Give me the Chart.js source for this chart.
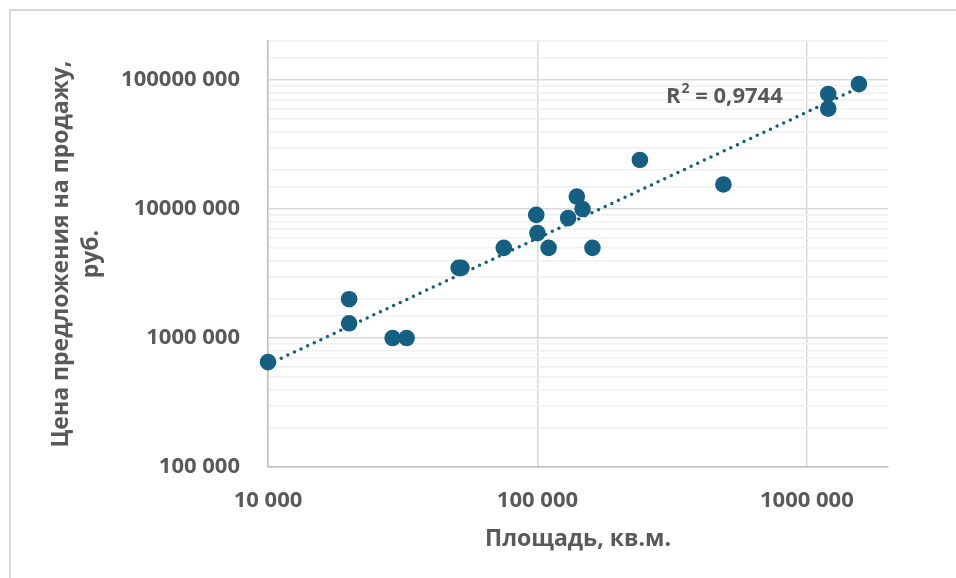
<!DOCTYPE html>
<html>
<head>
<meta charset="utf-8">
<script src="https://cdn.jsdelivr.net/npm/chart.js@4/dist/chart.umd.min.js"></script>
<style>
  html, body { margin: 0; padding: 0; background: #fff; }
  #wrap { position: relative; width: 956px; height: 578px; overflow: hidden; }
  #frame { position: absolute; left: 9px; top: 9px; width: 1000px; height: 1000px;
           border-left: 2px solid #d9d9d9; border-top: 2px solid #d9d9d9; }
  canvas { position: absolute; left: 0; top: 0; }
</style>
</head>
<body>
<div id="wrap">
  <div id="frame"></div>
  <canvas id="c" width="956" height="578"></canvas>
</div>
<script>
// Offers: area (sq. m) and asking price (rub.)
const areaSqM = [10000, 20000, 20000, 29000, 32700, 51000, 52200, 75000, 99000, 100000,
                 110000, 130000, 140000, 147000, 160000, 240000, 490000, 1200000, 1200000, 1560000];
const offerPriceRub = [650000, 2000000, 1300000, 1000000, 1000000, 3500000, 3500000, 5000000, 9000000, 6500000,
                       5000000, 8500000, 12500000, 10000000, 5000000, 24000000, 15500000, 78000000, 60000000, 93000000];

// Axis tick labels (only the decades are labelled)
const xTickValues = [10000, 100000, 1000000];
const xTickLabels = ['10 000', '100 000', '1000 000'];
const yTickValues = [100000, 1000000, 10000000, 100000000];
const yTickLabels = ['100 000', '1000 000', '10000 000', '100000 000'];

// Coefficient of determination of the power trendline
const rSquared = 0.9744;
const r2LabelAt = { x: 300000, y: 74000000 };

const BLUE = '#156082';
const TEXT = '#595959';
const FONT = "'Open Sans', 'Liberation Sans', sans-serif";

// Power trendline y = a * x^b, least squares in log space
function powerFit(xs, ys) {
  const lx = xs.map(Math.log), ly = ys.map(Math.log);
  const n = xs.length;
  const mx = lx.reduce((s, v) => s + v, 0) / n;
  const my = ly.reduce((s, v) => s + v, 0) / n;
  let sxy = 0, sxx = 0;
  for (let i = 0; i < n; i++) { sxy += (lx[i] - mx) * (ly[i] - my); sxx += (lx[i] - mx) ** 2; }
  const b = sxy / sxx;
  const a = Math.exp(my - b * mx);
  return x => a * Math.pow(x, b);
}
const trend = powerFit(areaSqM, offerPriceRub);
const xMin = Math.min(...areaSqM), xMax = Math.max(...areaSqM);

function isDecade(v) {
  const l = Math.log10(v);
  return Math.abs(l - Math.round(l)) < 1e-9;
}
function labelFor(values, labels) {
  return v => {
    const i = values.findIndex(t => Math.abs(v / t - 1) < 1e-6);
    return i >= 0 ? labels[i] : '';
  };
}

const r2Label = {
  id: 'r2Label',
  afterDatasetsDraw(chart) {
    const { ctx, scales: { x, y } } = chart;
    let px = x.getPixelForValue(r2LabelAt.x);
    const py = y.getPixelForValue(r2LabelAt.y);
    ctx.save();
    ctx.fillStyle = TEXT;
    ctx.textBaseline = 'middle';
    ctx.textAlign = 'left';
    ctx.font = `bold 22px ${FONT}`;
    ctx.fillText('R', px, py);
    px += ctx.measureText('R').width + 1;
    ctx.font = `bold 14px ${FONT}`;
    ctx.fillText('2', px, py - 8);
    px += ctx.measureText('2').width;
    ctx.font = `bold 22px ${FONT}`;
    ctx.fillText(' = ' + rSquared.toFixed(4).replace('.', ','), px, py);
    ctx.restore();
  }
};

new Chart(document.getElementById('c'), {
  type: 'scatter',
  data: {
    datasets: [
      {
        label: 'Предложения',
        data: areaSqM.map((a, i) => ({ x: a, y: offerPriceRub[i] })),
        backgroundColor: BLUE,
        borderColor: BLUE,
        borderWidth: 0,
        pointRadius: 8.3,
        pointHoverRadius: 8.3,
        clip: false,
        order: 1
      },
      {
        type: 'line',
        label: 'Степенная (Предложения)',
        data: [{ x: xMin, y: trend(xMin) }, { x: xMax, y: trend(xMax) }],
        showLine: true,
        borderColor: BLUE,
        borderWidth: 3.5,
        borderDash: [0, 7.3],
        borderCapStyle: 'round',
        pointRadius: 0,
        fill: false,
        order: 2
      }
    ]
  },
  options: {
    responsive: false,
    animation: false,
    devicePixelRatio: 1,
    layout: { padding: { left: 0, top: 40, right: 68, bottom: 0 } },
    plugins: { legend: { display: false }, tooltip: { enabled: false } },
    scales: {
      x: {
        type: 'logarithmic',
        min: 10000,
        max: 2000000,
        afterFit(s) { s.height = 111; },
        border: { color: '#bfbfbf', width: 1.5 },
        grid: {
          drawTicks: false,
          lineWidth: 1.5,
          color: c => (c.tick && isDecade(c.tick.value)) ? '#d9d9d9' : 'rgba(0,0,0,0)'
        },
        ticks: {
          autoSkip: false, maxRotation: 0, padding: 21, color: TEXT,
          font: { family: FONT, size: 22, weight: 'bold' },
          callback: labelFor(xTickValues, xTickLabels)
        },
        title: {
          display: true, text: 'Площадь, кв.м.', color: TEXT,
          font: { family: FONT, size: 23, weight: 'bold' },
          padding: { top: 0, bottom: 25 }
        }
      },
      y: {
        type: 'logarithmic',
        min: 100000,
        max: 200000000,
        afterFit(s) { s.width = 268; },
        border: { color: '#bfbfbf', width: 1.5 },
        grid: {
          drawTicks: false,
          lineWidth: 1.5,
          color: c => (c.tick && isDecade(c.tick.value)) ? '#d9d9d9' : '#f0f0f0'
        },
        ticks: {
          autoSkip: false, padding: 28, color: TEXT,
          font: { family: FONT, size: 22, weight: 'bold' },
          callback: labelFor(yTickValues, yTickLabels)
        },
        title: {
          display: true, text: ['Цена предложения на продажу,', 'руб.'], color: TEXT,
          font: { family: FONT, size: 23, weight: 'bold', lineHeight: 1.32 },
          padding: { top: 46, bottom: 0 }
        }
      }
    }
  },
  plugins: [r2Label]
});
</script>
</body>
</html>
